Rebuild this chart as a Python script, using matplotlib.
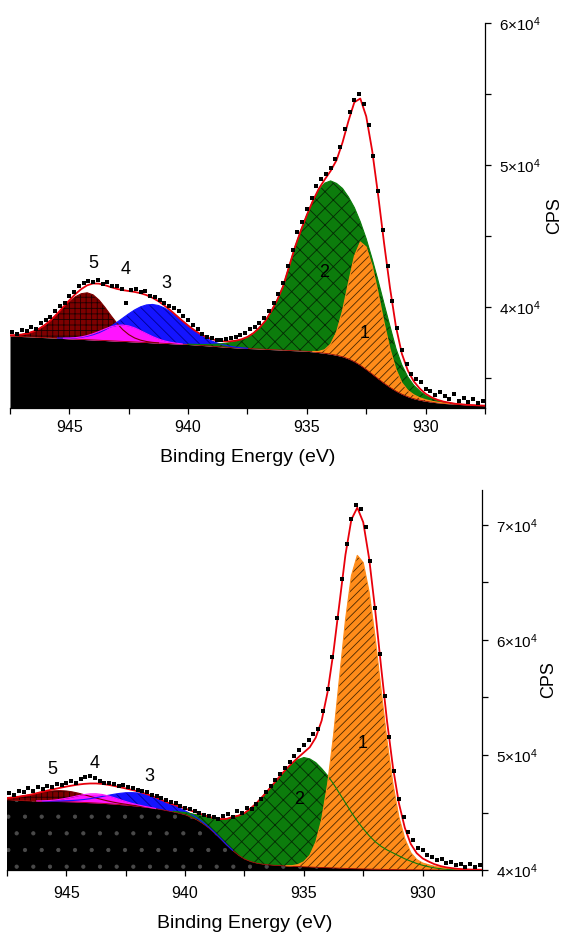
import numpy as np
import matplotlib
matplotlib.use('Agg')
import matplotlib.pyplot as plt
from matplotlib.ticker import MultipleLocator, FuncFormatter

plt.rcParams['font.family'] = ['Liberation Sans', 'DejaVu Sans']
plt.rcParams['mathtext.fontset'] = 'custom'
plt.rcParams['mathtext.rm'] = 'Liberation Sans'
plt.rcParams['mathtext.it'] = 'Liberation Sans:italic'
plt.rcParams['mathtext.default'] = 'regular'
plt.rcParams['hatch.linewidth'] = 0.6

# energy grids (eV): fit curves every 0.25 eV, measured points every 0.2 eV
fit_grid = np.round(np.arange(947.5, 927.49, -0.25), 2)
data_grid = np.round(np.arange(947.4, 927.59, -0.2), 2)

# ---------------- top spectrum ----------------
top_bg = [37960, 37940, 37920, 37900, 37880, 37860, 37840, 37820, 37800, 37780,
          37760, 37740, 37720, 37700, 37680, 37660, 37640, 37620, 37600, 37580,
          37560, 37540, 37520, 37500, 37480, 37460, 37440, 37420, 37400, 37380,
          37360, 37330, 37300, 37270, 37240, 37210, 37180, 37150, 37120, 37100,
          37080, 37060, 37040, 37020, 37000, 36980, 36960, 36940, 36920, 36900,
          36880, 36840, 36790, 36740, 36680, 36600, 36500, 36350, 36150, 35900,
          35600, 35280, 34950, 34630, 34340, 34080, 33860, 33680, 33540, 33440,
          33360, 33300, 33250, 33210, 33180, 33150, 33130, 33110, 33090, 33070,
          33050]

# component heights above background, first value at the given start energy
top_p5_start = 947.5
top_p5 = [42, 80, 145, 249, 407, 633, 930, 1302, 1730, 2184, 2608, 2977, 3215,
          3300, 3175, 2828, 2333, 1779, 1257, 822, 498, 279, 145, 69, 30, 13]
top_p4_start = 945.25
top_p4 = [24, 50, 97, 174, 287, 438, 620, 813, 986, 1106, 1150, 1106, 986, 813,
          620, 438, 287, 174, 97, 50, 24]
top_p3_start = 945.5
top_p3 = [16, 30, 54, 92, 151, 240, 365, 534, 751, 1013, 1314, 1638, 1960, 2255,
          2492, 2647, 2700, 2647, 2492, 2255, 1960, 1638, 1314, 1013, 751, 534,
          365, 240, 151, 92, 54, 30, 16]
top_p2_start = 940.0
top_p2 = [20, 40, 60, 90, 130, 180, 250, 340, 450, 600, 800, 1100, 1500, 2000,
          2700, 3500, 4500, 5900, 7300, 8500, 9600, 10600, 11450, 11980, 12200,
          12100, 11850, 11400, 10850, 10100, 9200, 8100, 6900, 5600, 4300, 3000,
          2050, 1400, 950, 650, 420, 270, 170, 100, 60, 35, 20]
top_p1_start = 934.75
top_p1 = [30, 80, 250, 700, 1640, 3225, 5340, 7420, 8680, 8620, 7630, 6045, 4280,
          2715, 1542, 800, 450, 280, 170, 110, 70, 45, 30, 20]

top_counts = [38250, 38100, 38400, 38300, 38600, 38450, 38900, 39050, 39300, 39700,
              40100, 40300, 40750, 41050, 41500, 41700, 41850, 41750, 41900, 41650,
              41750, 41500, 41450, 41300, 40250, 41200, 41250, 41050, 41100, 40800,
              40700, 40500, 40300, 40050, 39950, 39700, 39400, 39050, 38700, 38450,
              38100, 37900, 37850, 37700, 37650, 37750, 37800, 37900, 38000, 38200,
              38450, 38600, 38850, 39250, 39700, 40300, 40900, 41700, 42900, 44000,
              45300, 46000, 46900, 47700, 48500, 49000, 49400, 49800, 50400, 51300,
              52500, 53700, 54600, 55000, 54300, 52800, 50600, 48200, 45400, 42900,
              40400, 38500, 37000, 36000, 35300, 34900, 34700, 34200, 34100, 33800,
              34000, 33700, 33500, 33900, 33400, 33600, 33300, 33500, 33250, 33400]

top_labels = ['5', '4', '3', '2', '1']
top_label_e = [944.0, 942.63, 940.9, 934.27, 932.58]
top_label_v = [43030, 42606, 41690, 42395, 38100]

# ---------------- bottom spectrum ----------------
bot_bg = [46100, 46075, 46050, 46025, 46000, 45990, 45980, 45970, 45960, 45950,
          45940, 45920, 45900, 45875, 45850, 45825, 45800, 45765, 45730, 45690,
          45650, 45600, 45550, 45485, 45420, 45335, 45250, 45150, 45050, 44930,
          44800, 44600, 44350, 44030, 43650, 43200, 42700, 42180, 41700, 41280,
          40950, 40740, 40600, 40510, 40450, 40410, 40380, 40350, 40320, 40300,
          40280, 40260, 40240, 40220, 40200, 40180, 40160, 40140, 40120, 40105,
          40090, 40080, 40070, 40060, 40050, 40040, 40030, 40025, 40020, 40015,
          40010, 40008, 40005, 40003, 40000, 40000, 40000, 40000, 40000, 40000,
          40000]

bot_p5_start = 947.5
bot_p5 = [163, 237, 328, 435, 552, 672, 782, 871, 930, 950, 930, 871, 782, 672,
          552, 435, 328, 237, 163, 108, 69, 42, 24, 14]
bot_p4_start = 946.25
bot_p4 = [17, 35, 68, 121, 199, 305, 431, 566, 685, 770, 800, 770, 685, 566, 431,
          305, 199, 121, 68, 35, 17]
bot_p3_start = 946.0
bot_p3 = [10, 18, 31, 51, 80, 123, 181, 258, 352, 465, 591, 725, 856, 974, 1068,
          1129, 1150, 1129, 1068, 974, 856, 725, 591, 465, 352, 258, 181, 123, 80,
          51, 31, 18, 10]
bot_p2_start = 940.5
bot_p2 = [60, 120, 200, 300, 450, 650, 900, 1250, 1700, 2250, 2900, 3450, 4000,
          4600, 5200, 5850, 6500, 7150, 7800, 8400, 8900, 9300, 9500, 9400, 9100,
          8600, 8000, 7300, 6500, 5700, 4900, 4150, 3500, 2900, 2400, 2000, 1700,
          1450, 1200, 950, 750, 550, 400, 280, 180, 110, 70, 40, 20]
bot_p1_start = 935.75
bot_p1 = [20, 60, 170, 440, 1020, 2170, 4180, 7290, 11540, 16560, 21560, 25450,
          27250, 26640, 24080, 20180, 15640, 11220, 7450, 4590, 2700, 1500, 900,
          600, 450, 320, 230, 160, 120, 80, 60, 40, 30, 20]

bot_counts = [46700, 46550, 46900, 46750, 47100, 46900, 47250, 47050, 47300, 47200,
              47500, 47400, 47600, 47700, 47550, 47950, 48100, 48150, 48000, 47750,
              47600, 47550, 47450, 47300, 47400, 47200, 47150, 46950, 46900, 46800,
              46550, 46450, 46300, 46050, 45900, 45800, 45550, 45400, 45300, 45100,
              44950, 44800, 44700, 44650, 44400, 44700, 44850, 44600, 45100, 45000,
              45400, 45300, 45700, 46150, 46800, 47300, 47800, 48350, 48900, 49400,
              49900, 50400, 50900, 51300, 51800, 52300, 53800, 55700, 58500, 61900,
              65300, 68300, 70500, 71700, 71400, 69800, 66900, 62800, 58800, 55100,
              51600, 48600, 46200, 44600, 43300, 42600, 41900, 41700, 41300, 41100,
              40900, 41000, 40600, 40700, 40400, 40500, 40300, 40550, 40250, 40400]

bot_labels = ['5', '4', '3', '2', '1']
bot_label_e = [945.6, 943.8, 941.5, 935.2, 932.53]
bot_label_v = [48770, 49290, 48160, 46160, 51030]

# fill colour, hatch colour, hatch, zorder
styles = {
    '5': ('#7d0000', '#1e0000', '+++', 2),
    '3': ('#1414ff', '#000090', '\\\\\\', 3),
    '4': ('#ff14ff', '#ff14ff', None, 4),
    '2': ('#0c7c0c', '#042a04', 'xx', 5),
    '1': ('#ff8c1a', '#4a2800', '////', 6),
}


def draw_panel(ax, bg, comps, counts, labels, label_e, label_v, ylim, bg_hatch, xpad):
    bg = np.array(bg, dtype=float)
    env = bg.copy()
    ax.fill_between(fit_grid, ylim[0], bg, facecolor='black', edgecolor='#4a4a4a',
                    hatch=bg_hatch, linewidth=0, zorder=1)
    ax.plot(fit_grid, bg, color='#a00000', lw=0.6, zorder=7)
    for name, start, h in comps:
        h = np.array(h, dtype=float)
        i = int(np.argmin(np.abs(fit_grid - start)))
        e = fit_grid[i:i + len(h)]
        base = bg[i:i + len(h)]
        env[i:i + len(h)] += h
        face, hcol, hatch, z = styles[name]
        ax.fill_between(e, base, base + h, facecolor=face, edgecolor=hcol,
                        hatch=hatch, linewidth=0, zorder=z)
        ax.plot(e, base + h, color=face, lw=0.8, zorder=7)
    ax.plot(fit_grid, env, color='#e8000b', lw=1.3, zorder=8)
    ax.plot(data_grid, counts, 's', color='black', ms=2.4, mew=0, zorder=9)
    for s, e, v in zip(labels, label_e, label_v):
        ax.text(e, v, s, fontsize=13, ha='center', va='center', zorder=10)

    ax.set_xlim(947.5, 927.5)
    ax.set_ylim(*ylim)
    ax.xaxis.set_major_locator(MultipleLocator(5))
    ax.xaxis.set_minor_locator(MultipleLocator(2.5))
    ax.yaxis.set_major_locator(MultipleLocator(10000))
    ax.yaxis.set_minor_locator(MultipleLocator(5000))
    ax.yaxis.set_major_formatter(FuncFormatter(lambda v, p: f"{v / 1e4:.0f}×10$^{{4}}$"))
    ax.yaxis.tick_right()
    ax.yaxis.set_label_position('right')
    for side in ['left', 'top']:
        ax.spines[side].set_visible(False)
    for side in ['right', 'bottom']:
        ax.spines[side].set_linewidth(0.9)
    ax.tick_params(which='both', direction='out', length=4, width=0.9)
    ax.tick_params(axis='x', labelsize=11.5, pad=xpad)
    ax.tick_params(axis='y', labelsize=11, pad=6)
    ax.set_xlabel('Binding Energy (eV)', fontsize=14, labelpad=10)
    ax.set_ylabel('CPS', fontsize=13)


fig = plt.figure(figsize=(5.64, 9.34), dpi=100)
ax_top = fig.add_axes([0.0177, 0.5632, 0.8422, 0.4122])
ax_bot = fig.add_axes([0.0124, 0.0685, 0.8422, 0.4069])

top_comps = [('5', top_p5_start, top_p5), ('3', top_p3_start, top_p3),
             ('4', top_p4_start, top_p4), ('2', top_p2_start, top_p2),
             ('1', top_p1_start, top_p1)]
bot_comps = [('5', bot_p5_start, bot_p5), ('3', bot_p3_start, bot_p3),
             ('4', bot_p4_start, bot_p4), ('2', bot_p2_start, bot_p2),
             ('1', bot_p1_start, bot_p1)]

draw_panel(ax_top, top_bg, top_comps, top_counts, top_labels, top_label_e,
           top_label_v, (32890, 60000), None, 5)
draw_panel(ax_bot, bot_bg, bot_comps, bot_counts, bot_labels, bot_label_e,
           bot_label_v, (40000, 73040), '.', 7.5)

ax_top.yaxis.set_label_coords(1.128, 0.5)
ax_bot.yaxis.set_label_coords(1.122, 0.5)

fig.savefig('out.png', dpi=100)
